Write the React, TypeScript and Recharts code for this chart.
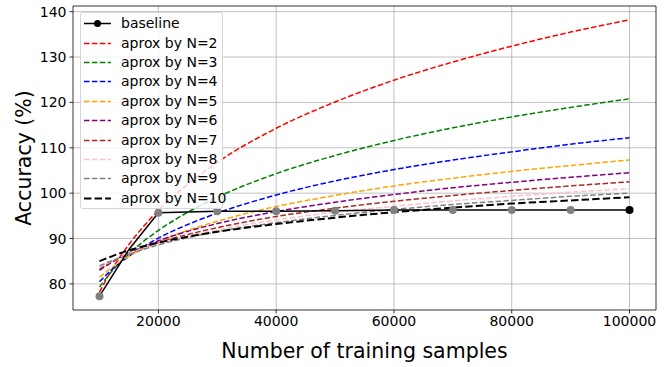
import React from 'react';
import { LineChart, Line, XAxis, YAxis, CartesianGrid, ReferenceLine } from 'recharts';

const xs = [10000, 12500, 15000, 17500, 20000, 25000, 30000, 40000, 50000, 60000, 70000, 80000, 90000, 100000];
const n2 = [78.2, 84.0, 88.7, 92.7, 96.2, 102.0, 106.8, 114.3, 120.1, 124.9, 128.9, 132.4, 135.5, 138.2];
const n3 = [79.3, 83.4, 86.6, 89.4, 91.8, 95.8, 99.1, 104.3, 108.3, 111.6, 114.4, 116.8, 118.9, 120.8];
const n4 = [80.5, 83.6, 86.1, 88.2, 90.1, 93.1, 95.6, 99.6, 102.7, 105.2, 107.3, 109.1, 110.8, 112.2];
const n5 = [81.5, 84.0, 86.1, 87.8, 89.3, 91.8, 93.8, 97.05, 99.5, 101.6, 103.3, 104.8, 106.1, 107.3];
const n6 = [83.0, 85.1, 86.8, 88.2, 89.5, 91.6, 93.3, 95.95, 98.0, 99.7, 101.2, 102.4, 103.5, 104.5];
const n7 = [83.3, 85.1, 86.7, 87.9, 89.1, 90.9, 92.4, 94.85, 96.7, 98.2, 99.5, 100.6, 101.6, 102.5];
const n8 = [83.7, 85.3, 86.7, 87.9, 88.9, 90.6, 91.9, 94.1, 95.8, 97.1, 98.3, 99.3, 100.2, 101.0];
const n9 = [84.0, 85.3, 86.5, 87.6, 88.6, 90.2, 91.5, 93.5, 95.1, 96.4, 97.5, 98.4, 99.3, 100.0];
const n10 = [85.0, 86.3, 87.4, 88.3, 89.1, 90.4, 91.5, 93.2, 94.6, 95.8, 96.8, 97.7, 98.4, 99.1];

const baseX = [10000, 15000, 20000, 30000, 40000, 50000, 60000, 70000, 80000, 90000, 100000];
const baseY = [77.3, 87.6, 95.7, 96.0, 96.0, 96.1, 96.3, 96.3, 96.3, 96.3, 96.3];
const baseDots = [true, false, true, true, true, true, true, true, true, true, true];

const xTicks = [20000, 40000, 60000, 80000, 100000];
const yTicks = [80, 90, 100, 110, 120, 130, 140];

const approx = [
  { key: 'n2', name: 'aprox by N=2', vals: n2, color: 'red', w: 1.5 },
  { key: 'n3', name: 'aprox by N=3', vals: n3, color: 'green', w: 1.5 },
  { key: 'n4', name: 'aprox by N=4', vals: n4, color: 'blue', w: 1.5 },
  { key: 'n5', name: 'aprox by N=5', vals: n5, color: 'orange', w: 1.5 },
  { key: 'n6', name: 'aprox by N=6', vals: n6, color: 'purple', w: 1.5 },
  { key: 'n7', name: 'aprox by N=7', vals: n7, color: 'brown', w: 1.5 },
  { key: 'n8', name: 'aprox by N=8', vals: n8, color: 'pink', w: 1.5 },
  { key: 'n9', name: 'aprox by N=9', vals: n9, color: 'gray', w: 1.5 },
  { key: 'n10', name: 'aprox by N=10', vals: n10, color: 'black', w: 2 },
];

const allX = Array.from(new Set([...xs, ...baseX])).sort((a, b) => a - b);
const data = allX.map((x) => {
  const row: any = { x };
  approx.forEach((s) => {
    const i = xs.indexOf(x);
    if (i >= 0) row[s.key] = s.vals[i];
  });
  const j = baseX.indexOf(x);
  if (j >= 0) {
    row.baseline = baseY[j];
    row.dot = baseDots[j];
    row.last = j === baseX.length - 1;
  }
  return row;
});

const FONT = 'DejaVu Sans, sans-serif';

const BaseDot = (props: any) => {
  const { cx, cy, payload } = props;
  if (cy == null || !payload.dot) return <g />;
  return <circle cx={cx} cy={cy} r={4} fill={payload.last ? '#000' : '#808080'} stroke="none" />;
};

const legendRows = [
  { name: 'baseline', color: 'black', w: 1.5, dash: '', marker: true },
  ...approx.map((s) => ({ name: s.name, color: s.color, w: s.w, dash: s.w === 2 ? '7.4 3.2' : '5.5 2.4', marker: false })),
];

export default function App() {
  return (
    <div style={{ position: 'absolute', left: 0, top: 0, width: 668, height: 367, background: '#fff' }}>
      <LineChart width={668} height={367} data={data} margin={{ top: 6, right: 12, bottom: 0, left: 0 }}>
        <CartesianGrid stroke="#b0b0b0" strokeWidth={0.8} horizontalValues={yTicks} verticalValues={xTicks} />
        <XAxis
          dataKey="x"
          type="number"
          domain={[5500, 104500]}
          ticks={xTicks}
          height={57}
          tickSize={3.5}
          tickMargin={3}
          axisLine={{ stroke: '#000', strokeWidth: 0.8 }}
          tickLine={{ stroke: '#000', strokeWidth: 0.8 }}
          tick={{ fontSize: 14, fill: '#000', fontFamily: FONT }}
          label={{ value: 'Number of training samples', position: 'insideBottom', offset: 9, fontSize: 20.5, fill: '#000', fontFamily: FONT }}
        />
        <YAxis
          type="number"
          domain={[74.25, 141.25]}
          ticks={yTicks}
          width={73}
          tickSize={3.5}
          tickMargin={3}
          axisLine={{ stroke: '#000', strokeWidth: 0.8 }}
          tickLine={{ stroke: '#000', strokeWidth: 0.8 }}
          tick={{ fontSize: 14, fill: '#000', fontFamily: FONT }}
          label={{ value: 'Accuracy (%)', angle: -90, position: 'insideLeft', offset: 24, fontSize: 20.5, fill: '#000', fontFamily: FONT, style: { textAnchor: 'middle' } }}
        />
        <ReferenceLine x={104500} stroke="#000" strokeWidth={0.8} />
        <ReferenceLine y={141.25} stroke="#000" strokeWidth={0.8} />
        {approx.map((s) => (
          <Line
            key={s.key}
            dataKey={s.key}
            type="monotone"
            stroke={s.color}
            strokeWidth={s.w}
            strokeDasharray={s.w === 2 ? '7.4 3.2' : '5.5 2.4'}
            dot={false}
            connectNulls
            isAnimationActive={false}
          />
        ))}
        <Line
          dataKey="baseline"
          type="linear"
          stroke="#000"
          strokeWidth={1.5}
          dot={<BaseDot />}
          activeDot={false}
          connectNulls
          isAnimationActive={false}
        />
      </LineChart>
      <div
        style={{
          position: 'absolute',
          left: 80,
          top: 12,
          width: 143,
          height: 197,
          background: 'rgba(255,255,255,0.8)',
          border: '1px solid #d6d6d6',
          borderRadius: 3,
          boxSizing: 'border-box',
          fontFamily: FONT,
          fontSize: 14,
          color: '#000',
        }}
      >
        {legendRows.map((r, i) => (
          <div key={r.name} style={{ position: 'absolute', left: 0, top: 1 + i * 19.4, height: 19.4, display: 'flex', alignItems: 'center', whiteSpace: 'nowrap' }}>
            <svg width={40} height={19} style={{ display: 'block' }}>
              <line x1={3} x2={30} y1={9.5} y2={9.5} stroke={r.color} strokeWidth={r.w} strokeDasharray={r.dash || undefined} />
              {r.marker && <circle cx={16.5} cy={9.5} r={3.5} fill="#000" />}
            </svg>
            <span style={{ lineHeight: '19px' }}>{r.name}</span>
          </div>
        ))}
      </div>
    </div>
  );
}
